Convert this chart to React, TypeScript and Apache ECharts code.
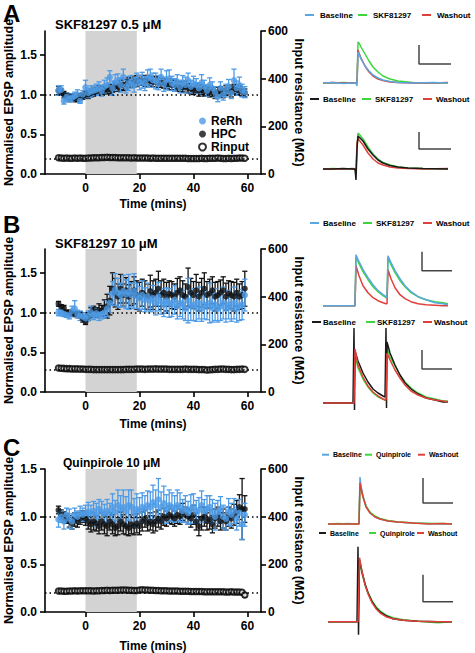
import React, { useEffect, useRef } from 'react';
import * as echarts from 'echarts';

const FONT = "'Liberation Sans', Arial, Helvetica, sans-serif";
const BLUE = '#4e9be6';
const BLACK = '#111111';
const TBLUE = '#5aa6e0';
const TGREEN = '#3cd63c';
const TRED = '#e0403a';
const TBLACK = '#1a1a1a';

// ---- time course (minutes) ----
const minutes = [
  -10, -9, -8, -7, -6, -5, -4, -3, -2, -1,
  0, 1, 2, 3, 4, 5, 6, 7, 8, 9,
  10, 11, 12, 13, 14, 15, 16, 17, 18, 19,
  20, 21, 22, 23, 24, 25, 26, 27, 28, 29,
  30, 31, 32, 33, 34, 35, 36, 37, 38, 39,
  40, 41, 42, 43, 44, 45, 46, 47, 48, 49,
  50, 51, 52, 53, 54, 55, 56, 57, 58, 59,
];
const xTicks = [0, 20, 40, 60];
const leftTicks = [0, 0.5, 1, 1.5];

// Panel A: SKF81297 0.5 uM
const aReRh = [1.05,1.06,0.92,0.97,0.95,0.96,0.98,1.00,0.92,1.00,
  1.09,1.02,1.04,1.05,1.06,1.08,1.05,1.10,1.12,1.22,
  1.08,1.15,1.18,1.12,1.22,1.10,1.14,1.16,1.12,1.19,
  1.15,1.18,1.14,1.20,1.22,1.18,1.17,1.15,1.22,1.13,
  1.18,1.20,1.14,1.12,1.16,1.10,1.15,1.12,1.18,1.10,
  1.14,1.12,1.08,1.15,1.10,1.05,1.12,1.08,1.03,0.97,
  1.08,1.00,1.05,1.10,1.02,1.18,1.08,1.12,1.05,1.03];
const aReRhErr = [0.06,0.05,0.04,0.05,0.04,0.05,0.05,0.06,0.03,0.05,
  0.09,0.06,0.07,0.06,0.07,0.08,0.07,0.08,0.09,0.08,
  0.09,0.10,0.08,0.09,0.10,0.08,0.09,0.08,0.09,0.08,
  0.09,0.10,0.09,0.11,0.10,0.09,0.10,0.09,0.10,0.09,
  0.12,0.11,0.09,0.08,0.09,0.08,0.09,0.10,0.09,0.08,
  0.09,0.08,0.07,0.10,0.08,0.07,0.09,0.08,0.07,0.06,
  0.08,0.07,0.08,0.09,0.07,0.14,0.09,0.10,0.08,0.07];
const aHpc = [1.05,1.03,1.00,0.98,0.96,0.97,0.95,0.96,0.97,0.98,
  1.00,1.00,1.02,1.03,1.04,1.05,1.05,1.06,1.06,1.07,
  1.08,1.10,1.10,1.12,1.12,1.13,1.15,1.15,1.16,1.17,
  1.18,1.18,1.17,1.18,1.17,1.16,1.16,1.15,1.15,1.14,
  1.13,1.13,1.12,1.12,1.10,1.10,1.09,1.10,1.08,1.07,
  1.06,1.08,1.05,1.06,1.04,1.05,1.03,1.04,1.02,1.03,
  1.04,1.02,1.05,1.06,1.04,1.07,1.06,1.05,1.04,1.02];
const aHpcErr = [0.05,0.04,0.04,0.04,0.05,0.04,0.04,0.05,0.04,0.04,
  0.04,0.05,0.05,0.05,0.05,0.06,0.05,0.05,0.05,0.06,
  0.05,0.06,0.06,0.06,0.07,0.06,0.06,0.06,0.06,0.07,
  0.06,0.06,0.07,0.06,0.06,0.06,0.07,0.06,0.06,0.06,
  0.06,0.07,0.06,0.06,0.06,0.06,0.06,0.07,0.06,0.06,
  0.06,0.06,0.07,0.06,0.06,0.06,0.06,0.06,0.07,0.06,
  0.06,0.06,0.06,0.06,0.07,0.06,0.06,0.06,0.06,0.05];
const aRin = [68,67,66,67,66,66,67,66,67,66,
  66,67,67,68,68,68,69,69,70,69,
  69,69,68,68,68,68,68,67,68,67,
  67,67,67,67,66,67,66,66,66,66,
  66,66,66,66,66,66,66,66,65,65,
  65,65,65,66,65,65,66,66,66,67,
  66,65,65,66,65,66,66,67,67,66];
const aRinRef = 64;

// Panel B: SKF81297 10 uM
const bReRh = [1.00,1.00,0.98,0.97,0.96,1.02,1.05,0.98,0.96,0.95,
  0.93,0.96,1.00,0.97,0.99,0.97,0.98,1.00,1.05,1.12,
  1.24,1.29,1.25,1.22,1.27,1.23,1.26,1.22,1.27,1.21,
  1.18,1.22,1.16,1.20,1.15,1.18,1.12,1.20,1.14,1.10,
  1.15,1.12,1.10,1.16,1.08,1.12,1.10,1.05,1.15,1.08,
  1.10,1.06,1.12,1.05,1.10,1.08,1.12,1.06,1.10,1.05,
  1.08,1.12,1.05,1.10,1.06,1.12,1.05,1.08,1.10,1.22];
const bReRhErr = [0.04,0.04,0.03,0.03,0.04,0.06,0.10,0.05,0.06,0.05,
  0.05,0.06,0.08,0.06,0.06,0.07,0.06,0.07,0.10,0.12,
  0.15,0.20,0.18,0.15,0.20,0.18,0.22,0.15,0.22,0.16,
  0.15,0.18,0.15,0.17,0.14,0.16,0.15,0.18,0.16,0.15,
  0.16,0.18,0.15,0.18,0.16,0.17,0.18,0.15,0.28,0.18,
  0.20,0.17,0.20,0.16,0.18,0.17,0.25,0.18,0.20,0.17,
  0.18,0.20,0.17,0.18,0.17,0.20,0.17,0.18,0.19,0.20];
const bHpc = [1.11,1.07,1.06,1.00,1.00,0.99,0.98,0.98,0.97,0.92,
  0.88,0.95,1.00,1.02,1.00,1.03,1.02,1.06,1.08,1.15,
  1.30,1.25,1.20,1.30,1.22,1.28,1.20,1.24,1.28,1.22,
  1.20,1.25,1.22,1.20,1.27,1.22,1.25,1.30,1.22,1.25,
  1.20,1.24,1.22,1.20,1.25,1.28,1.22,1.20,1.32,1.25,
  1.22,1.28,1.20,1.25,1.30,1.22,1.24,1.28,1.20,1.22,
  1.25,1.28,1.20,1.24,1.22,1.20,1.25,1.20,1.22,1.30];
const bHpcErr = [0.03,0.03,0.03,0.03,0.03,0.03,0.03,0.03,0.04,0.04,
  0.03,0.05,0.06,0.06,0.06,0.08,0.07,0.10,0.15,0.18,
  0.20,0.18,0.16,0.18,0.14,0.16,0.15,0.15,0.17,0.18,
  0.18,0.17,0.18,0.16,0.20,0.18,0.17,0.22,0.18,0.17,
  0.18,0.16,0.17,0.16,0.18,0.17,0.18,0.16,0.24,0.18,
  0.17,0.20,0.18,0.18,0.20,0.17,0.18,0.17,0.18,0.17,
  0.16,0.17,0.17,0.16,0.17,0.18,0.17,0.16,0.17,0.22];
const bRin = [101,100,99,98,98,97,97,97,96,96,
  95,95,95,94,94,94,94,94,94,94,
  94,94,94,94,94,95,95,95,95,96,
  96,96,95,96,96,96,97,96,96,96,
  96,95,95,95,95,95,95,96,95,95,
  95,95,94,94,94,92,93,94,95,95,
  96,96,95,95,94,94,95,95,96,95];
const bRinRef = 94;

// Panel C: Quinpirole 10 uM
const cReRh = [0.97,1.00,0.95,1.02,0.98,0.95,1.02,1.00,1.03,1.02,
  1.04,1.05,1.03,1.06,1.02,1.08,1.05,1.03,1.06,1.04,
  1.10,1.05,1.12,1.08,1.10,1.06,1.12,1.10,1.04,1.08,
  1.06,1.10,1.08,1.12,1.10,1.15,1.12,1.18,1.10,1.14,
  1.08,1.12,1.10,1.08,1.12,1.10,1.06,1.08,1.04,1.08,
  1.10,1.05,1.07,1.12,1.06,1.08,1.10,1.05,1.00,1.05,
  1.08,1.00,0.98,1.05,1.02,1.06,0.98,1.04,0.92,1.02];
const cReRhErr = [0.08,0.06,0.08,0.07,0.10,0.08,0.07,0.06,0.08,0.07,
  0.08,0.10,0.09,0.10,0.12,0.10,0.11,0.10,0.12,0.10,
  0.14,0.12,0.16,0.14,0.18,0.15,0.16,0.18,0.15,0.16,
  0.14,0.15,0.14,0.15,0.16,0.18,0.16,0.22,0.16,0.18,
  0.15,0.16,0.15,0.14,0.16,0.15,0.12,0.14,0.12,0.15,
  0.14,0.12,0.13,0.15,0.12,0.14,0.12,0.13,0.14,0.12,
  0.13,0.12,0.12,0.14,0.12,0.13,0.12,0.14,0.16,0.12];
const cHpc = [1.07,1.02,1.00,0.98,0.95,0.93,0.97,0.95,0.98,1.00,
  0.98,0.95,0.92,0.95,0.93,0.90,0.95,0.92,0.90,0.95,
  0.92,0.88,0.90,0.95,0.92,0.90,0.88,0.92,0.90,0.93,
  0.90,0.95,0.98,0.93,0.95,0.92,0.95,0.98,0.95,1.00,
  0.98,1.02,1.00,0.98,1.02,1.00,1.05,1.02,1.00,0.98,
  1.02,0.95,0.90,0.98,1.00,0.95,0.97,0.92,0.98,1.00,
  0.95,0.98,0.95,1.00,0.98,1.02,1.05,1.10,1.08,1.08];
const cHpcErr = [0.04,0.05,0.05,0.05,0.06,0.06,0.07,0.06,0.06,0.06,
  0.07,0.08,0.08,0.09,0.08,0.08,0.09,0.10,0.10,0.09,
  0.10,0.08,0.09,0.10,0.10,0.09,0.08,0.10,0.09,0.10,
  0.09,0.10,0.09,0.08,0.09,0.09,0.10,0.09,0.08,0.09,
  0.08,0.09,0.08,0.08,0.09,0.08,0.09,0.08,0.08,0.09,
  0.10,0.09,0.10,0.12,0.10,0.09,0.10,0.09,0.10,0.10,
  0.09,0.10,0.09,0.10,0.10,0.11,0.12,0.13,0.32,0.14];
const cRin = [88,88,87,87,88,88,89,88,89,89,
  89,89,89,88,89,89,90,90,91,90,
  91,91,91,92,92,92,91,91,90,90,
  92,93,92,92,91,91,90,90,89,89,
  89,88,88,88,88,87,87,87,87,86,
  86,86,86,86,85,85,85,85,85,85,
  85,85,84,84,85,84,84,84,83,71];
const cRinErr = [3,3,3,3,3,3,3,3,3,3,
  3,3,3,3,3,3,3,3,3,3,
  3,3,3,3,3,3,3,3,3,3,
  3,3,3,3,3,3,3,3,3,3,
  3,3,3,3,3,3,3,3,3,3,
  3,3,3,3,3,3,3,3,3,3,
  3,3,3,3,3,3,4,4,5,8];
const cRinRef = 80;

// ---- example traces (ms, arbitrary amplitude units) ----
const tA1 = [0,10,20,30,33,34,35,36,38,42,46,50,55,60,67,75,90,110,125];
const a1Base = [0,0.5,-0.5,0,0,-3,31,29,24,17,12,8,5,3,1.5,0.5,0,0.5,0];
const a1Drug = [0,0,0.5,0,0,0,41,40,36,29,22,16,11,7,4,2,0.5,0,0];
const a1Wash = [0,0.5,0,0,0,0,33,30,25,17,11,7,4,2.5,1,0.5,0,0,0.5];
const a1Bar = [[96,38],[96,19],[128,19]];

const tA2 = [0,10,20,30,32,33,34,35,36,40,45,50,55,60,67,75,85,100,125];
const a2Base = [0,0,0.5,0,0,-11,20,33,32,28,20,14,9,6,3.5,2,1,0.5,0];
const a2Drug = [0,0.5,0,0,0,-4,22,36,35,30,22,15,10,6.5,4,2,1,0.5,0];
const a2Wash = [0,0,0,0.5,0,-2,26,31,29,24,16,10,6,4,2,1,0.5,0,0.5];
const a2Bar = [[96,37],[96,20],[128,20]];

const tB1 = [0,10,20,31,32,33,36,40,45,50,55,60,63,64,65,68,72,77,82,88,95,103,112,120,125];
const b1Base = [0,0,0,0,0,51,44,36,28,21,15,11,9,8,50,43,35,27,20,14,9,6,3,2,1];
const b1Drug = [0,0,0,0,0,49,42,34,26,19,14,10,8,8,48,41,33,25,19,13,9,6,4,3,2];
const b1Wash = [0,0,0,0,0,40,30,20,13,8,5,3,2,2,36,27,18,11,7,4,2,1,0.5,0,0];
const b1Bar = [[99,54],[99,35],[129,35]];

const tB2 = [0,10,20,30,31,31.5,32,35,40,45,50,55,60,62,63,63.5,64,67,72,77,82,88,95,103,112,120,125];
const b2Base = [0,0,0,0,75,-7,52,42,30,21,14,10,7,6,75,-5,61,50,38,28,20,14,9,5,3,1,1];
const b2Drug = [0,0,0,0,0,0,48,35,24,16,10,6,4,3,3,3,55,46,37,28,21,15,10,6,4,2,2];
const b2Wash = [0,0,0,0,0,0,54,38,26,17,11,7,4,3,3,3,50,43,33,25,18,12,8,5,3,2,1];
const b2Bar = [[99,53],[99,34],[129,34]];

const tC1 = [0,10,20,31,32,33,35,38,42,47,52,60,70,85,100,115,124];
const c1Base = [0,0,0.5,0,47,38,28,18,11,7,5,3,2,1,0.5,0,0];
const c1Drug = [0,0.5,0,0,40,35,27,18,12,8,5.5,3.5,2,1,0.5,0.5,0];
const c1Wash = [0,0,0,0,41,36,27,17,11,7,5,3,2,1,0,0.5,0];
const c1Bar = [[95,46],[95,21],[125,21]];

const tC2 = [0,10,20,29,30,30.5,31.5,34,37,40,44,48,53,58,65,75,90,110,124];
const c2Base = [0,0,0,0,75,-13,62,50,38,29,20,14,9,6,3,1.5,0.5,0,0];
const c2Drug = [0,0,0,0,0,0,60,48,37,29,21,15,10,6.5,4,2,0.5,-1,0];
const c2Wash = [0,0,0,0,0,0,64,50,37,28,19,13,8,5,3,1.5,0.5,0,0];
const c2Bar = [[95,47],[95,20],[125,20]];

const panelLetters = ['A', 'B', 'C'];
const panelTitles = ['SKF81297 0.5 \u03bcM', 'SKF81297 10 \u03bcM', 'Quinpirole 10 \u03bcM'];
const drugNames = ['SKF81297', 'SKF81297', 'Quinpirole'];

// ---- layout ----
const mainGrids = [
  { top: 31, height: 143, yMax: 1.8, nameGap: 24 },
  { top: 249, height: 143, yMax: 1.8, nameGap: 26 },
  { top: 469, height: 143, yMax: 1.5, nameGap: 28 },
];
const traceGrids = [
  { left: 323, top: 38, min: -10, max: 45 },
  { left: 323, top: 129, min: -15, max: 40 },
  { left: 323, top: 245.7, min: -10, max: 60 },
  { left: 323, top: 323, min: -10, max: 80 },
  { left: 328, top: 474, min: -5, max: 50 },
  { left: 328, top: 541.7, min: -15, max: 80 },
];

function errBar(name: string, xi: number, yi: number, mean: number[], err: number[], color: string, width: number) {
  return {
    type: 'custom',
    name,
    xAxisIndex: xi,
    yAxisIndex: yi,
    silent: true,
    z: 3,
    data: minutes.map((t, i) => [t, mean[i], err[i]]),
    encode: { x: 0, y: 1 },
    renderItem: (_p: any, api: any) => {
      const x = api.value(0);
      const m = api.value(1);
      const e = api.value(2);
      const top = api.coord([x, m + e]);
      const bot = api.coord([x, m - e]);
      const hw = 2.6;
      const st = { stroke: color, lineWidth: width };
      return {
        type: 'group',
        children: [
          { type: 'line', shape: { x1: top[0], y1: top[1], x2: bot[0], y2: bot[1] }, style: st },
          { type: 'line', shape: { x1: top[0] - hw, y1: top[1], x2: top[0] + hw, y2: top[1] }, style: st },
          { type: 'line', shape: { x1: bot[0] - hw, y1: bot[1], x2: bot[0] + hw, y2: bot[1] }, style: st },
        ],
      };
    },
  };
}

function panelSeries(p: number, rerh: number[], rerhErr: number[], hpc: number[], hpcErr: number[], rin: number[], rinErr: number[] | null, rinRef: number) {
  const xi = p;
  const yl = 2 * p;
  const yr = 2 * p + 1;
  const dotted = { color: '#000', width: 1.5, type: [1.5, 3] };
  const out: any[] = [
    {
      type: 'line', xAxisIndex: xi, yAxisIndex: yl, data: [], silent: true, z: 1,
      markArea: { silent: true, itemStyle: { color: '#d3d3d3' }, data: [[{ xAxis: 0 }, { xAxis: 19 }]] },
      markLine: { silent: true, symbol: 'none', label: { show: false }, lineStyle: dotted, data: [{ yAxis: 1 }] },
    },
    {
      type: 'line', xAxisIndex: xi, yAxisIndex: yr, data: [], silent: true, z: 1,
      markLine: { silent: true, symbol: 'none', label: { show: false }, lineStyle: dotted, data: [{ yAxis: rinRef }] },
    },
  ];
  if (rinErr) out.push(errBar('Rinput err', xi, yr, rin, rinErr, '#000', 1.2));
  out.push({
    type: 'scatter', name: 'Rinput', xAxisIndex: xi, yAxisIndex: yr, z: 3,
    symbol: 'emptyCircle', symbolSize: 5.5,
    itemStyle: { color: '#000', borderColor: '#000', borderWidth: p === 2 ? 1.4 : 1 },
    data: minutes.map((t, i) => [t, rin[i]]),
  });
  out.push(errBar('HPC err', xi, yl, hpc, hpcErr, BLACK, 1.3));
  out.push({
    type: 'scatter', name: 'HPC', xAxisIndex: xi, yAxisIndex: yl, z: 4,
    symbol: 'circle', symbolSize: 6, itemStyle: { color: BLACK },
    data: minutes.map((t, i) => [t, hpc[i]]),
  });
  out.push(errBar('ReRh err', xi, yl, rerh, rerhErr, BLUE, 1.3));
  out.push({
    type: 'scatter', name: 'ReRh', xAxisIndex: xi, yAxisIndex: yl, z: 5,
    symbol: 'circle', symbolSize: 6.5, itemStyle: { color: BLUE },
    data: minutes.map((t, i) => [t, rerh[i]]),
  });
  return out;
}

function traceSeries(g: number, t: number[], lines: { v: number[]; c: string }[], bar: number[][]) {
  const xi = 3 + g;
  const yi = 6 + g;
  const out: any[] = lines.map((l) => ({
    type: 'line', xAxisIndex: xi, yAxisIndex: yi, silent: true, symbol: 'none',
    lineStyle: { color: l.c, width: 1.5 }, data: t.map((x, i) => [x, l.v[i]]),
  }));
  out.push({
    type: 'line', xAxisIndex: xi, yAxisIndex: yi, silent: true, symbol: 'none',
    lineStyle: { color: '#444', width: 1.5 }, data: bar,
  });
  return out;
}

// legend rows for the example traces
const legendRows = [
  { y: 15, xs: [305, 358, 422], colors: [TBLUE, TGREEN, TRED], drug: 0, size: 8, dash: 9, off: 15 },
  { y: 99, xs: [310, 362, 423], colors: [TBLACK, TGREEN, TRED], drug: 0, size: 8, dash: 9, off: 13 },
  { y: 223, xs: [310, 363, 423], colors: [TBLUE, TGREEN, TRED], drug: 1, size: 8, dash: 9, off: 13 },
  { y: 322, xs: [312, 366, 423], colors: [TBLACK, TGREEN, TRED], drug: 1, size: 8, dash: 9, off: 11 },
  { y: 454.7, xs: [322, 365, 418], colors: [TBLUE, TGREEN, TRED], drug: 2, size: 7, dash: 7, off: 11 },
  { y: 533, xs: [319, 369, 417], colors: [TBLACK, TGREEN, TRED], drug: 2, size: 7, dash: 7, off: 11 },
];

function buildOption() {
  const textStyle = { fontFamily: FONT, fontWeight: 'bold', color: '#000' };
  const grid: any[] = [];
  const xAxis: any[] = [];
  const yAxis: any[] = [];
  mainGrids.forEach((g, p) => {
    grid.push({ left: 45, width: 216, top: g.top, height: g.height });
    xAxis.push({
      gridIndex: p, type: 'value', min: -15, max: 65,
      axisLine: { show: true, onZero: false, lineStyle: { color: '#000', width: 1.6 } },
      axisTick: { show: true, length: 5, lineStyle: { color: '#000', width: 1.6 }, customValues: xTicks },
      axisLabel: { ...textStyle, fontSize: 12, margin: 8, customValues: xTicks },
      splitLine: { show: false },
      name: 'Time (mins)', nameLocation: 'middle', nameGap: g.nameGap,
      nameTextStyle: { ...textStyle, fontSize: 12 },
    });
    yAxis.push({
      gridIndex: p, type: 'value', min: 0, max: g.yMax, position: 'left',
      axisLine: { show: true, onZero: false, lineStyle: { color: '#000', width: 1.6 } },
      axisTick: { show: true, length: 5, lineStyle: { color: '#000', width: 1.6 }, customValues: leftTicks },
      axisLabel: { ...textStyle, fontSize: 12, margin: 8, customValues: leftTicks, formatter: (v: number) => v.toFixed(1) },
      splitLine: { show: false },
      name: 'Normalised EPSP amplitude', nameLocation: 'middle', nameGap: 30,
      nameTextStyle: { ...textStyle, fontSize: 12.5 },
    });
    yAxis.push({
      gridIndex: p, type: 'value', min: 0, max: 600, interval: 200, position: 'right',
      axisLine: { show: true, onZero: false, lineStyle: { color: '#000', width: 1.6 } },
      axisTick: { show: true, length: 5, lineStyle: { color: '#000', width: 1.6 } },
      axisLabel: { ...textStyle, fontSize: 12, margin: 7 },
      splitLine: { show: false },
      name: 'Input resistance (M\u03a9)', nameLocation: 'middle', nameGap: 31, nameRotate: -90,
      nameTextStyle: { ...textStyle, fontSize: 12.5 },
    });
  });
  traceGrids.forEach((g, i) => {
    grid.push({ left: g.left, width: 130, top: g.top, height: g.max - g.min });
    xAxis.push({ gridIndex: 3 + i, type: 'value', min: 0, max: 130, show: false });
    yAxis.push({ gridIndex: 3 + i, type: 'value', min: g.min, max: g.max, show: false });
  });

  const series: any[] = [
    ...panelSeries(0, aReRh, aReRhErr, aHpc, aHpcErr, aRin, null, aRinRef),
    ...panelSeries(1, bReRh, bReRhErr, bHpc, bHpcErr, bRin, null, bRinRef),
    ...panelSeries(2, cReRh, cReRhErr, cHpc, cHpcErr, cRin, cRinErr, cRinRef),
    ...traceSeries(0, tA1, [{ v: a1Drug, c: TGREEN }, { v: a1Wash, c: TRED }, { v: a1Base, c: TBLUE }], a1Bar),
    ...traceSeries(1, tA2, [{ v: a2Drug, c: TGREEN }, { v: a2Wash, c: TRED }, { v: a2Base, c: TBLACK }], a2Bar),
    ...traceSeries(2, tB1, [{ v: b1Drug, c: TGREEN }, { v: b1Wash, c: TRED }, { v: b1Base, c: TBLUE }], b1Bar),
    ...traceSeries(3, tB2, [{ v: b2Drug, c: TGREEN }, { v: b2Base, c: TBLACK }, { v: b2Wash, c: TRED }], b2Bar),
    ...traceSeries(4, tC1, [{ v: c1Base, c: TBLUE }, { v: c1Drug, c: TGREEN }, { v: c1Wash, c: TRED }], c1Bar),
    ...traceSeries(5, tC2, [{ v: c2Drug, c: TGREEN }, { v: c2Base, c: TBLACK }, { v: c2Wash, c: TRED }], c2Bar),
  ];

  const graphic: any[] = [];
  const letterY = [13, 224, 447.5];
  const titleY = [24, 243, 462.5];
  const titleX = [55, 55, 63];
  const titleSize = [13, 13, 12];
  panelLetters.forEach((l, i) => {
    graphic.push({ type: 'text', x: 3, y: letterY[i], style: { text: l, fill: '#000', font: `bold 24px ${FONT}`, align: 'left', verticalAlign: 'middle' } });
    graphic.push({ type: 'text', x: titleX[i], y: titleY[i], style: { text: panelTitles[i], fill: '#000', font: `bold ${titleSize[i]}px ${FONT}`, align: 'left', verticalAlign: 'middle' } });
  });
  legendRows.forEach((r) => {
    const labels = ['Baseline', drugNames[r.drug], 'Washout'];
    r.xs.forEach((x, k) => {
      graphic.push({ type: 'line', shape: { x1: x, y1: r.y, x2: x + r.dash, y2: r.y }, style: { stroke: r.colors[k], lineWidth: 2 } });
      graphic.push({ type: 'text', x: x + r.off, y: r.y, style: { text: labels[k], fill: '#000', font: `bold ${r.size}px ${FONT}`, align: 'left', verticalAlign: 'middle' } });
    });
  });

  return {
    animation: false,
    backgroundColor: '#fff',
    grid,
    xAxis,
    yAxis,
    legend: {
      left: 193, top: 110, orient: 'vertical', itemGap: 1, itemWidth: 7, itemHeight: 7, selectedMode: false,
      textStyle: { ...textStyle, fontSize: 12 },
      data: [
        { name: 'ReRh', icon: 'circle' },
        { name: 'HPC', icon: 'circle' },
        { name: 'Rinput', icon: 'emptyCircle' },
      ],
    },
    graphic,
    series,
  };
}

export default function App() {
  const ref = useRef<HTMLDivElement>(null);
  useEffect(() => {
    document.body.style.margin = '0';
    if (!ref.current) return;
    const chart = echarts.init(ref.current, undefined, { renderer: 'svg' });
    chart.setOption(buildOption() as any);
    return () => chart.dispose();
  }, []);
  return <div ref={ref} style={{ width: 475, height: 653 }} />;
}
